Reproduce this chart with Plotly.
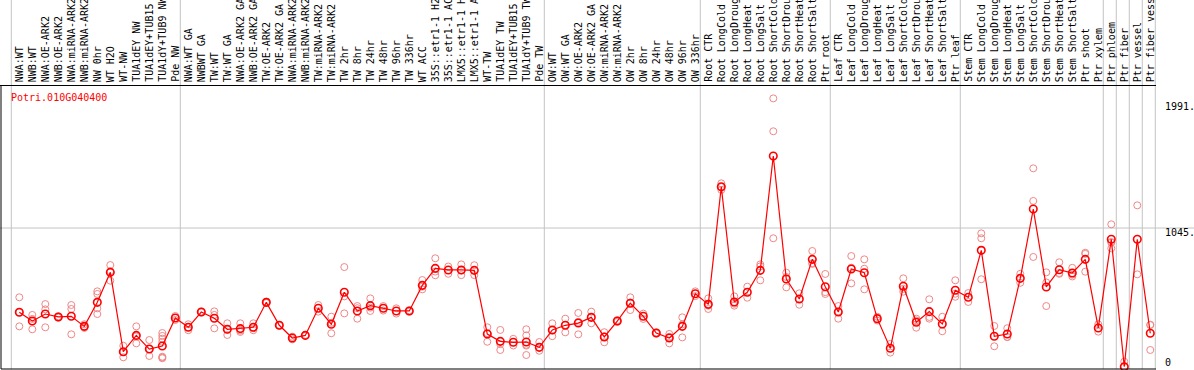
import plotly.graph_objects as go

gene = "Potri.010G040400"

categories = [
    "NWA:WT", "NWB:WT", "NWA:OE-ARK2", "NWB:OE-ARK2", "NWA:miRNA-ARK2", "NWB:miRNA-ARK2",
    "NW 0hr", "WT H2O", "WT-NW", "TUA1dEY NW", "TUA1dEY+TUB15 NW", "TUA1dY+TUB9 NW", "Pde NW",
    "NWA:WT GA", "NWBWT GA", "TW:WT", "TW:WT GA", "NWA:OE-ARK2 GA", "NWB:OE-ARK2 GA",
    "TW:OE-ARK2", "TW:OE-ARK2 GA", "NWA:miRNA-ARK2 GA", "NWB:miRNA-ARK2 GA", "TW:miRNA-ARK2",
    "TW:miRNA-ARK2 GA", "TW 2hr", "TW 8hr", "TW 24hr", "TW 48hr", "TW 96hr", "TW 336hr",
    "WT ACC", "35S::etr1-1 H2O", "35S::etr1-1 ACC", "LMX5::etr1-1 H2O", "LMX5::etr1-1 ACC",
    "WT-TW", "TUA1dEY TW", "TUA1dEY+TUB15 TW", "TUA1dY+TUB9 TW", "Pde TW",
    "OW:WT", "OW:WT GA", "OW:OE-ARK2", "OW:OE-ARK2 GA", "OW:miRNA-ARK2", "OW:miRNA-ARK2 GA",
    "OW 2hr", "OW 8hr", "OW 24hr", "OW 48hr", "OW 96hr", "OW 336hr",
    "Root CTR", "Root LongCold", "Root LongDrought", "Root LongHeat", "Root LongSalt",
    "Root ShortCold", "Root ShortDrought", "Root ShortHeat", "Root ShortSalt", "Ptr root",
    "Leaf CTR", "Leaf LongCold", "Leaf LongDrought", "Leaf LongHeat", "Leaf LongSalt",
    "Leaf ShortCold", "Leaf ShortDrought", "Leaf ShortHeat", "Leaf ShortSalt", "Ptr leaf",
    "Stem CTR", "Stem LongCold", "Stem LongDrought", "Stem LongHeat", "Stem LongSalt",
    "Stem ShortCold", "Stem ShortDrought", "Stem ShortHeat", "Stem ShortSalt", "Ptr shoot",
    "Ptr xylem", "Ptr phloem", "Ptr fiber", "Ptr vessel", "Ptr fiber vessel",
]

means = [
    410, 344, 397, 375, 380, 304, 485, 711, 113, 236, 133, 156, 367,
    297, 412, 365, 282, 287, 297, 485, 312, 216, 236, 440, 320, 561, 420, 460, 440, 420, 420,
    613, 741, 729, 729, 726, 246, 191, 184, 186, 146,
    277, 312, 329, 372, 224, 344, 478, 380, 254, 216, 304, 550,
    470, 1356, 488, 561, 726, 1588, 661, 510, 809, 603,
    412, 736, 708, 362, 139, 606, 335, 415, 322, 576,
    523, 877, 229, 246, 666, 1188, 601, 731, 706, 809, 292,
    960, 0, 960, 252,
]

replicates = [
    [523, 304, 410], [390, 282, 360], [472, 432, 297], [380, 370], [465, 435, 244],
    [320, 300, 292], [568, 548, 440, 397], [766, 648, 720], [158, 71, 110], [304, 176, 228],
    [201, 133, 81], [254, 232, 211, 187, 75, 69, 64], [382, 352],
    [320, 297, 275], [415, 409], [417, 289, 390], [327, 239, 280], [327, 262, 272],
    [327, 290, 275], [490, 480], [315, 309], [206, 226], [240, 232], [465, 415],
    [377, 252, 331], [751, 402, 530], [457, 362, 441], [515, 420, 445], [457, 423],
    [440, 400], [425, 415], [653, 583, 603], [817, 689, 717], [755, 700], [771, 690, 726],
    [765, 690], [297, 188, 253], [277, 126, 170], [210, 160], [282, 236, 165, 88, 159],
    [186, 120],
    [327, 230, 274], [362, 259, 315], [405, 244, 338], [415, 327], [260, 184, 228],
    [350, 338], [523, 427, 484], [400, 360], [250, 258], [247, 176, 225], [372, 221, 319],
    [568, 532],
    [515, 435, 460], [1382, 1332, 1354], [530, 460, 474], [603, 520], [771, 651, 756],
    [2022, 1774, 968], [709, 598, 676], [553, 467], [872, 780, 775], [699, 548, 562],
    [457, 362, 417], [834, 628, 746], [809, 738, 583], [376, 348], [172, 106],
    [666, 565, 587], [362, 294, 349], [508, 362, 375], [376, 267], [651, 550, 527],
    [555, 488], [1005, 968, 659], [307, 154], [290, 225, 223], [700, 632],
    [1495, 1249, 827], [711, 457, 635], [787, 700, 706], [745, 680, 693], [859, 850, 716],
    [320, 264],
    [1073, 940, 892, 935], [38, 0], [1216, 696], [314, 126, 316],
]

group_starts = [0, 13, 41, 53, 63, 73, 84, 85, 86, 87, 88]
grid_value = 1045
y_labels = [(0, "0", 4.7), (1045, "1045.5", -4.7), (1991, "1991.0", -4.2)]

W, H = 1194, 370
ML, MR, MT, MB = 1, 38, 0, 1
plot_w = W - ML - MR
plot_h = H - MT - MB
header_px = 85.5
header_paper = (plot_h - header_px) / plot_h

FONT = "DejaVu Sans Mono"

xi = list(range(len(categories)))
rep_x, rep_y = [], []
for i, vals in enumerate(replicates):
    for v in vals:
        rep_x.append(i)
        rep_y.append(v)

fig = go.Figure()
fig.add_trace(go.Scatter(
    x=rep_x, y=rep_y, mode="markers",
    marker=dict(symbol="circle-open", size=7, color="rgb(240,135,135)", line=dict(width=1)),
    hoverinfo="skip", showlegend=False, cliponaxis=False,
))
fig.add_trace(go.Scatter(
    x=xi, y=means, mode="lines+markers",
    line=dict(color="#ff0000", width=1.2),
    marker=dict(symbol="circle-open", size=7.5, color="#ff0000", line=dict(width=1.6)),
    showlegend=False, cliponaxis=False,
))

shapes = []
for s in group_starts:
    shapes.append(dict(type="line", xref="x", yref="paper", x0=s - 0.615, x1=s - 0.615,
                       y0=0, y1=1, line=dict(color="#c4c4c4", width=1), layer="below"))
shapes.append(dict(type="line", xref="paper", yref="y", x0=-0.01, x1=1.05,
                   y0=grid_value, y1=grid_value, line=dict(color="#c4c4c4", width=1), layer="below"))
shapes.append(dict(type="line", xref="paper", yref="paper", x0=-0.002, x1=1.0,
                   y0=header_paper, y1=header_paper, line=dict(color="black", width=1)))
shapes.append(dict(type="line", xref="paper", yref="paper", x0=0, x1=0,
                   y0=0, y1=header_paper, line=dict(color="black", width=1)))
shapes.append(dict(type="line", xref="paper", yref="paper", x0=0, x1=1.0,
                   y0=0, y1=0, line=dict(color="black", width=1.2)))

annotations = []
for i, c in enumerate(categories):
    annotations.append(dict(x=i, xref="x", y=header_paper + 1.5 / plot_h, yref="paper",
                            text=c, textangle=-90, showarrow=False,
                            xanchor="center", yanchor="bottom",
                            font=dict(family=FONT, size=10, color="black")))
annotations.append(dict(x=8 / plot_w, xref="paper", y=(plot_h - 97.5) / plot_h, yref="paper",
                        text=gene, showarrow=False, xanchor="left", yanchor="middle",
                        font=dict(family=FONT, size=10, color="#ff0000")))
for v, t, sh in y_labels:
    annotations.append(dict(x=(1163 - ML) / plot_w, xref="paper", y=v, yref="y", yshift=sh,
                            text=t, showarrow=False, xanchor="left", yanchor="middle",
                            font=dict(family=FONT, size=10, color="black")))

fig.update_layout(
    width=W, height=H,
    margin=dict(l=ML, r=MR, t=MT, b=MB, pad=0),
    paper_bgcolor="white", plot_bgcolor="white",
    xaxis=dict(range=[-1.408, 87.44], showgrid=False, zeroline=False, showticklabels=False,
               showline=False, ticks=""),
    yaxis=dict(range=[-17.3, 2763.4], showgrid=False, zeroline=False, showticklabels=False,
               showline=False, ticks=""),
    shapes=shapes, annotations=annotations,
    showlegend=False,
)

fig.write_html(
    "out.html",
    config={"displayModeBar": False},
    post_script="document.body.style.margin='0';document.body.style.overflow='hidden';",
)
